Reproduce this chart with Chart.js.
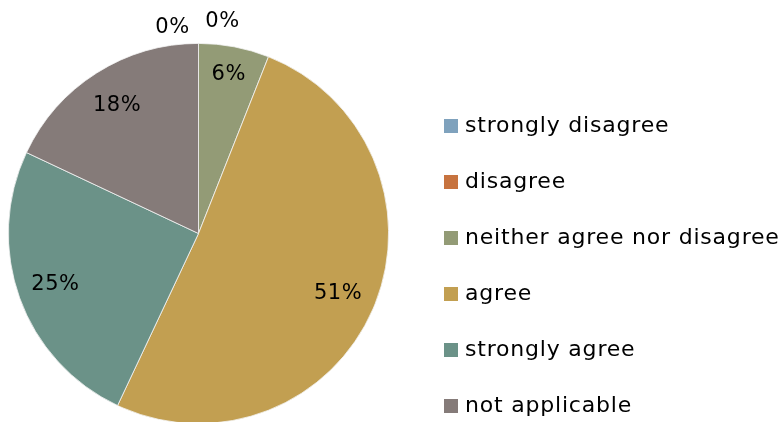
<!DOCTYPE html>
<html>
<head>
<meta charset="utf-8">
<script src="https://cdn.jsdelivr.net/npm/chart.js@4/dist/chart.umd.min.js"></script>
<style>
  html, body { margin: 0; padding: 0; background: #fff; overflow: hidden; }
  #wrap { width: 783px; height: 422px; overflow: hidden; }
</style>
</head>
<body>
<div id="wrap"><canvas id="pieChart" width="783" height="424"></canvas></div>
<script>
// data
const categories = ['strongly disagree', 'disagree', 'neither agree nor disagree', 'agree', 'strongly agree', 'not applicable'];
const percents = [0, 0, 6, 51, 25, 18];
const sliceColors = ['#7FA2BD', '#C7733F', '#939B76', '#C29F51', '#6B9288', '#857B79'];

const FONT = '"DejaVu Sans", sans-serif';

// percentage labels on the slices
const sliceLabels = {
    id: 'sliceLabels',
    afterDatasetsDraw(chart) {
        const ctx = chart.ctx;
        const arcs = chart.getDatasetMeta(0).data;
        ctx.save();
        ctx.font = '21px ' + FONT;
        ctx.letterSpacing = '0.5px';
        ctx.fillStyle = '#000';
        ctx.textAlign = 'center';
        ctx.textBaseline = 'middle';
        let zeroCount = 0;
        arcs.forEach((arc, i) => {
            const v = percents[i];
            const { x, y, startAngle, endAngle, outerRadius } = arc.getProps(['x', 'y', 'startAngle', 'endAngle', 'outerRadius'], true);
            const mid = (startAngle + endAngle) / 2;
            let lx, ly;
            if (v === 0) {
                // zero slices sit just above the pie, pushed apart
                const shift = zeroCount === 0 ? 24 : -26;
                lx = x + shift;
                ly = y - outerRadius - (zeroCount === 0 ? 22 : 16);
                zeroCount++;
            } else {
                const f = v < 10 ? 0.85 : 0.8;
                lx = x + Math.cos(mid) * outerRadius * f;
                ly = y + Math.sin(mid) * outerRadius * f;
            }
            ctx.fillText(v + '%', lx, ly);
        });
        ctx.restore();
    }
};

// legend on the right, one item per category
const sideLegend = {
    id: 'sideLegend',
    afterDraw(chart) {
        const ctx = chart.ctx;
        ctx.save();
        ctx.font = '22px ' + FONT;
        ctx.letterSpacing = '0.8px';
        ctx.textBaseline = 'middle';
        ctx.textAlign = 'left';
        categories.forEach((name, i) => {
            const cy = 126 + i * 56;
            ctx.fillStyle = sliceColors[i];
            ctx.fillRect(444, cy - 7, 14, 14);
            ctx.fillStyle = '#000';
            ctx.fillText(name, 465, cy);
        });
        ctx.restore();
    }
};

const pieCtx = document.getElementById('pieChart').getContext('2d');
new Chart(pieCtx, {
    type: 'pie',
    data: {
        labels: categories,
        datasets: [{
            data: percents,
            backgroundColor: sliceColors,
            borderColor: '#f4f4f4',
            borderWidth: 0.8
        }]
    },
    options: {
        responsive: false,
        animation: false,
        layout: { padding: { left: 8, top: 43, right: 394, bottom: 0 } },
        plugins: {
            legend: { display: false },
            tooltip: { enabled: false }
        }
    },
    plugins: [sliceLabels, sideLegend]
});
</script>
</body>
</html>
